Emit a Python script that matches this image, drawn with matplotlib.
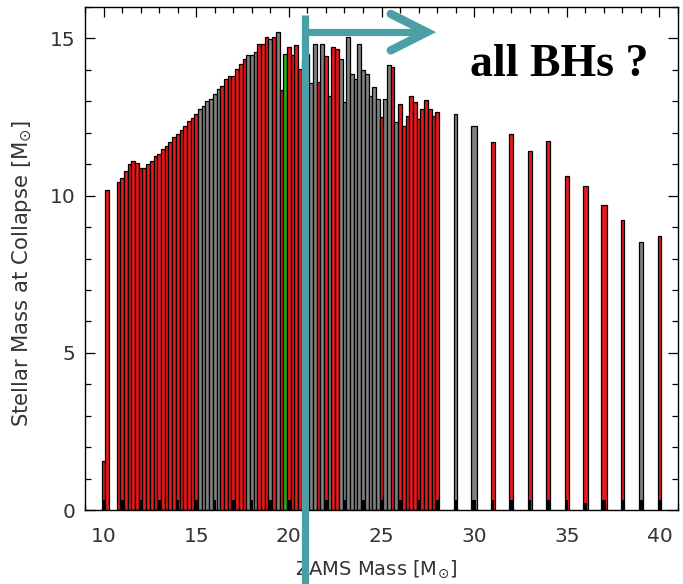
import matplotlib
matplotlib.use("Agg")
import matplotlib.pyplot as plt
from matplotlib.lines import Line2D

# ---------------- data ----------------
# ZAMS masses of the models (bars)
zams_mass = [
    10.0, 10.2,
    10.8, 11.0, 11.2, 11.4, 11.6, 11.8, 12.0, 12.2, 12.4, 12.6,
    12.8, 13.0, 13.2, 13.4, 13.6, 13.8, 14.0, 14.2, 14.4, 14.6,
    14.8, 15.0, 15.2, 15.4, 15.6, 15.8, 16.0, 16.2, 16.4, 16.6,
    16.8, 17.0, 17.2, 17.4, 17.6, 17.8, 18.0, 18.2, 18.4, 18.6,
    18.8, 19.0, 19.2, 19.4, 19.6, 19.8, 20.0, 20.2, 20.4, 20.6,
    20.8, 21.0, 21.2, 21.4, 21.6, 21.8, 22.0, 22.2, 22.4, 22.6,
    22.8, 23.0, 23.2, 23.4, 23.6, 23.8, 24.0, 24.2, 24.4, 24.6,
    24.8, 25.0, 25.2, 25.4, 25.6, 25.8, 26.0, 26.2, 26.4, 26.6,
    26.8, 27.0, 27.2, 27.4, 27.6, 27.8, 28.0,
    29, 30, 31, 32, 33, 34, 35, 36, 37, 38, 39, 40,
]
# stellar mass at collapse
collapse_mass = [
    1.56, 10.18,
    10.42, 10.55, 10.77, 11.00, 11.10, 11.05, 10.87, 10.87, 11.00, 11.10,
    11.25, 11.33, 11.48, 11.59, 11.69, 11.85, 11.97, 12.10, 12.23, 12.38,
    12.47, 12.60, 12.74, 12.86, 13.00, 13.08, 13.24, 13.40, 13.50, 13.71,
    13.82, 13.82, 14.03, 14.20, 14.36, 14.46, 14.46, 14.56, 14.83, 14.83,
    15.05, 14.98, 15.03, 15.21, 13.37, 14.52, 14.73, 14.46, 14.79, 14.03,
    14.30, 14.50, 13.59, 14.81, 13.61, 14.81, 14.44, 13.18, 14.73, 14.67,
    14.35, 12.97, 15.05, 13.88, 13.72, 14.81, 13.99, 13.88, 13.18, 13.46,
    13.08, 12.50, 13.08, 14.14, 14.10, 12.33, 12.93, 12.22, 12.54, 13.18,
    12.97, 12.44, 12.76, 13.03, 12.76, 12.54, 12.65,
    12.61, 12.22, 11.69, 11.97, 11.43, 11.75, 10.63, 10.31, 9.70, 9.22, 8.53, 8.71,
]
# outcome class: r = red, k = grey, g = green
outcome = (
    "rr"
    "rrrrrrrrrr"
    "rrrrrrrrrr"
    "rrkkkkkkrr"
    "rrrrrkkkrr"
    "rkrkrgrrrr"
    "rkkkrkrkrr"
    "kkkkkkkkkk"
    "krkkrkrrrr"
    "rrrrrrr"
    "kkrrrrrrrrkr"
)
# bar widths (model spacing)
bar_width = [0.2] * 89 + [0.2, 0.3, 0.2, 0.2, 0.2, 0.2, 0.2, 0.3, 0.3, 0.2, 0.2, 0.2]

# small black base markers at integer masses
marker_mass = list(range(10, 41))
marker_height = [0.33] * 26 + [0.22, 0.33, 0.33, 0.33, 0.33]

xticks = [10, 15, 20, 25, 30, 35, 40]
yticks = [0, 5, 10, 15]

palette = {"r": "#e8191c", "k": "#808080", "g": "#1fb01f"}
teal = "#4aa0a6"
txt = "#333333"

# ---------------- figure ----------------
fig = plt.figure(figsize=(6.83, 5.84), dpi=100)
ax = fig.add_axes([85 / 683, 74 / 584, 593 / 683, 503 / 584])

cols = [palette[c] for c in outcome]
ax.bar(zams_mass, collapse_mass, width=bar_width, color=cols,
       edgecolor="black", linewidth=0.9, align="center", zorder=2)
ax.bar(marker_mass, marker_height, width=0.18, color="black",
       linewidth=0, zorder=3)

ax.set_xlim(9, 41)
ax.set_ylim(0, 16)
ax.set_xticks(xticks)
ax.set_yticks(yticks)
ax.set_xticks(range(9, 42), minor=True)
ax.set_yticks(range(0, 17), minor=True)
ax.tick_params(which="both", direction="in", top=True, right=True,
               width=0.9, colors="black", labelcolor=txt, labelsize=14.5)
ax.tick_params(which="major", length=7)
ax.tick_params(which="minor", length=4)
ax.tick_params(axis="x", pad=12)
ax.tick_params(axis="y", pad=7)
for s in ax.spines.values():
    s.set_linewidth(1.0)

ax.set_xlabel(r"ZAMS Mass [M$_{\odot}$]", fontsize=14, color=txt)
ax.set_ylabel(r"Stellar Mass at Collapse [M$_{\odot}$]", fontsize=15.2, color=txt)
ax.xaxis.set_label_coords(0.49, -0.097)
ax.yaxis.set_label_coords(-0.086, 0.47)

# teal annotation: vertical line, arrow
vx = 20.86
ax.add_line(Line2D([vx, vx], [15.74, -2.6], color=teal, lw=5.2,
                   solid_capstyle="butt", clip_on=False, zorder=10))
ax.add_line(Line2D([vx, 27.4], [15.20, 15.20], color=teal, lw=5.2,
                   solid_capstyle="butt", clip_on=False, zorder=10))
ax.add_line(Line2D([25.5, 27.45, 25.5], [15.78, 15.20, 14.62], color=teal,
                   lw=6, solid_capstyle="round", solid_joinstyle="miter",
                   clip_on=False, zorder=10))

ax.text(34.6, 13.8, "all BHs ?", family="Liberation Serif", weight="bold",
        fontsize=33, color="black", ha="center", va="baseline", zorder=11)

fig.savefig("out.png", dpi=100)
